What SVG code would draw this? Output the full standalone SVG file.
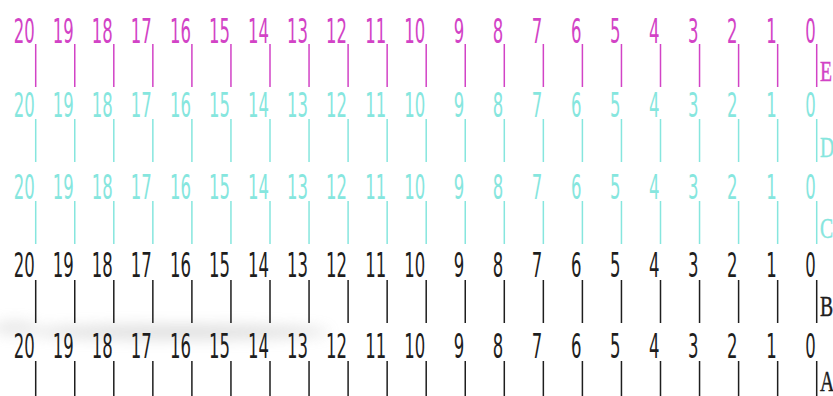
<svg xmlns="http://www.w3.org/2000/svg" xmlns:xlink="http://www.w3.org/1999/xlink" width="833" height="396" viewBox="0 0 833 396">
<style>
.num{font-family:"DejaVu Sans","Liberation Sans",sans-serif;font-size:33px;text-anchor:end;stroke:none}
.lbl{font-family:"Liberation Serif","DejaVu Serif",serif;font-size:29px;stroke-width:0.4}
.tk{fill:none;stroke-width:1.5}
.mag{fill:#d243c6;stroke:#d243c6}
.cya{fill:#86e6de;stroke:#86e6de}
.blk{fill:#1e1e1e;stroke:#1e1e1e}
</style>
<defs>
<filter id="blur" x="-50%" y="-200%" width="200%" height="500%"><feGaussianBlur stdDeviation="7"/></filter>
<g id="nums" transform="scale(0.5 1)">
<text class="num" x="69.4">20</text>
<text class="num" x="147.5">19</text>
<text class="num" x="225.6">18</text>
<text class="num" x="303.7">17</text>
<text class="num" x="381.8">16</text>
<text class="num" x="459.9">15</text>
<text class="num" x="538">14</text>
<text class="num" x="616.1">13</text>
<text class="num" x="694.2">12</text>
<text class="num" x="772.3">11</text>
<text class="num" x="850.4">10</text>
<text class="num" x="928.5">9</text>
<text class="num" x="1006.6">8</text>
<text class="num" x="1084.7">7</text>
<text class="num" x="1162.8">6</text>
<text class="num" x="1240.9">5</text>
<text class="num" x="1319">4</text>
<text class="num" x="1397.1">3</text>
<text class="num" x="1475.2">2</text>
<text class="num" x="1553.3">1</text>
<text class="num" x="1631.4">0</text>
</g>
<path id="ticks" d="M35.7 0v43M74.75 0v43M113.8 0v43M152.85 0v43M191.9 0v43M230.95 0v43M270 0v43M309.05 0v43M348.1 0v43M387.15 0v43M426.2 0v43M465.25 0v43M504.3 0v43M543.35 0v43M582.4 0v43M621.45 0v43M660.5 0v43M699.55 0v43M738.6 0v43M777.65 0v43M816.7 0v43"/>
</defs>
<rect width="833" height="396" fill="#ffffff"/>
<g id="smudge" filter="url(#blur)" opacity="0.35">
<ellipse cx="180" cy="332" rx="150" ry="7" fill="#a0a0a0"/>
<ellipse cx="15" cy="328" rx="22" ry="6" fill="#b0b0b0"/>
</g>
<g id="row-E" class="mag">
<use xlink:href="#nums" y="43"/>
<g id="ticks-E"><use xlink:href="#ticks" class="tk" y="44"/></g>
<text class="lbl" transform="translate(820 81) scale(0.68 1)">E</text>
</g>
<g id="row-D" class="cya">
<use xlink:href="#nums" y="117"/>
<g id="ticks-D"><use xlink:href="#ticks" class="tk" y="119"/></g>
<text class="lbl" transform="translate(820 157) scale(0.68 1)">D</text>
</g>
<g id="row-C" class="cya">
<use xlink:href="#nums" y="199"/>
<g id="ticks-C"><use xlink:href="#ticks" class="tk" y="201"/></g>
<text class="lbl" transform="translate(820 238) scale(0.68 1)">C</text>
</g>
<g id="row-B" class="blk">
<use xlink:href="#nums" y="277"/>
<g id="ticks-B"><use xlink:href="#ticks" class="tk" y="280"/></g>
<text class="lbl" transform="translate(820 316) scale(0.68 1)">B</text>
</g>
<g id="row-A" class="blk">
<use xlink:href="#nums" y="358"/>
<g id="ticks-A"><use xlink:href="#ticks" class="tk" y="361"/></g>
<text class="lbl" transform="translate(820 391) scale(0.68 1)">A</text>
</g>
</svg>
